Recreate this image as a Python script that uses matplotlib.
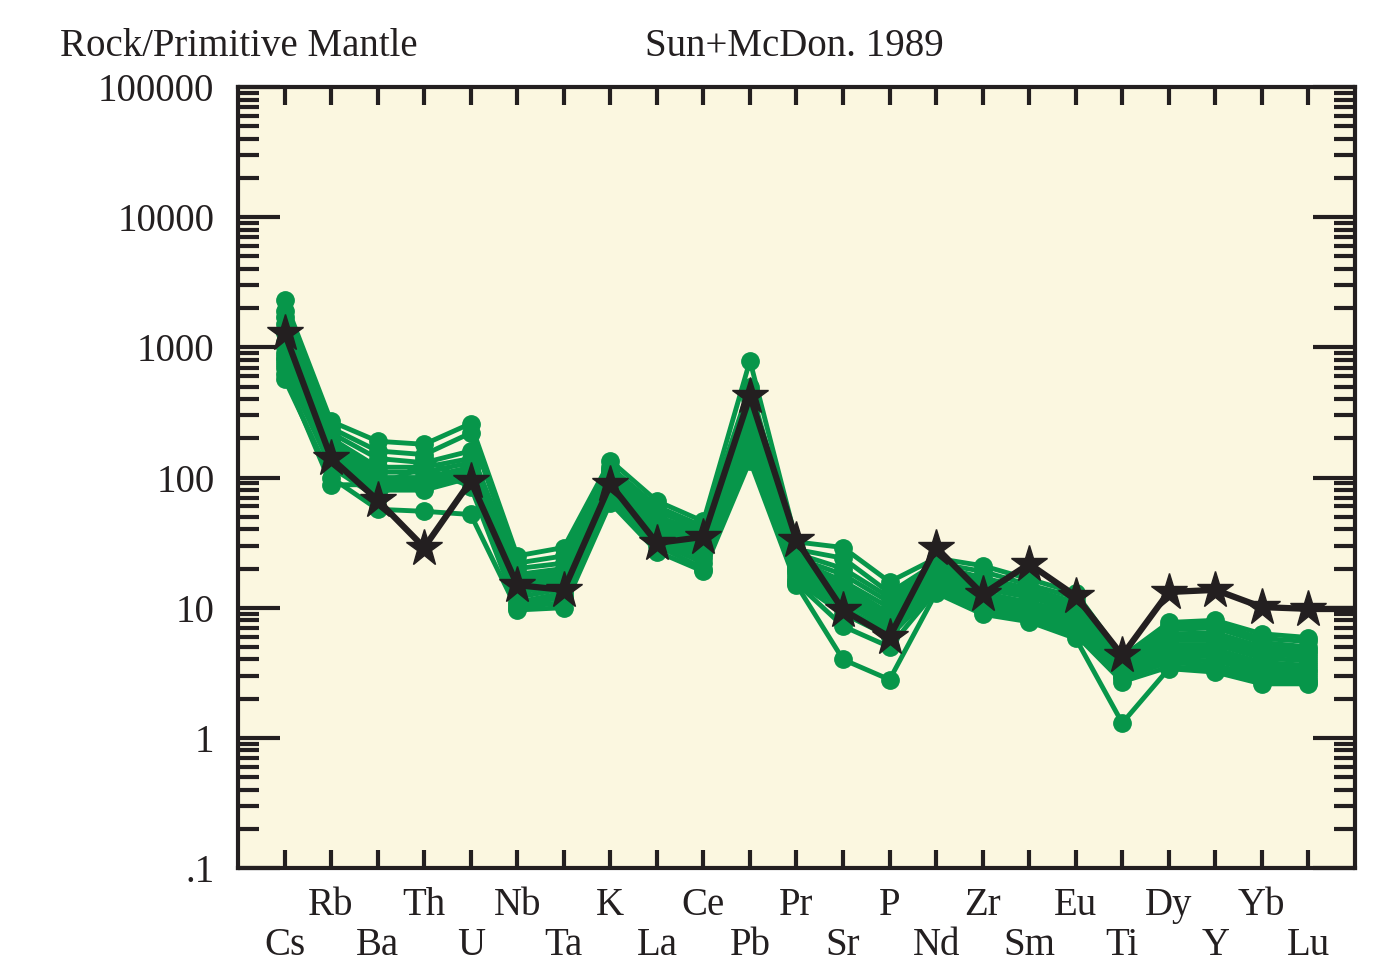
#!/usr/bin/env python3
"""Primitive-mantle normalised spider diagram (Sun & McDonough 1989)."""
import numpy as np
from matplotlib import pyplot as plt
from matplotlib.ticker import FixedLocator, LogLocator, NullFormatter

elements = ["Cs", "Rb", "Ba", "Th", "U", "Nb", "Ta", "K", "La", "Ce", "Pb", "Pr",
            "Sr", "P", "Nd", "Zr", "Sm", "Eu", "Ti", "Dy", "Y", "Yb", "Lu"]

# green samples, one list per rock
samples = [
    [2300, 270, 190, 180, 260, 25, 29, 135, 66, 46, 790, 32, 29, 15.8, 24, 21, 16.6, 13, 4.2, 7.7, 8.0, 6.3, 5.9],
    [1900, 240, 160, 150, 220, 22, 25, 120, 60, 42, 500, 28, 24, 13, 22, 19, 15, 12, 4.0, 7.2, 7.5, 5.8, 5.5],
    [1700, 220, 140, 130, 160, 20, 22, 115, 55, 40, 400, 26, 20, 12, 21, 17, 14, 11, 3.8, 6.8, 7.0, 5.4, 5.0],
    [1500, 200, 120, 120, 140, 18, 20, 110, 50, 38, 330, 24, 18, 11, 20, 16, 13, 10.5, 3.7, 6.3, 6.4, 5.0, 4.7],
    [1300, 190, 110, 110, 130, 17, 19, 105, 48, 36, 280, 23, 16, 10, 19, 15, 12.5, 10, 3.6, 6.0, 6.0, 4.7, 4.5],
    [1100, 180, 100, 100, 120, 16, 18, 100, 45, 34, 250, 22, 15, 9, 18, 14, 12, 9.5, 3.5, 5.6, 5.6, 4.4, 4.2],
    [1000, 170, 95, 95, 115, 15, 17, 95, 42, 32, 220, 21, 14, 8.5, 17, 13, 11, 9, 3.4, 5.2, 5.2, 4.1, 3.9],
    [900, 160, 90, 90, 110, 14, 16, 90, 40, 30, 200, 20, 13, 8, 16, 12, 10.5, 8.5, 3.3, 4.9, 4.8, 3.8, 3.6],
    [850, 150, 85, 85, 105, 13, 15, 85, 38, 28, 180, 19, 12, 7.5, 15.5, 11.5, 10, 8, 3.2, 4.6, 4.5, 3.6, 3.4],
    [800, 140, 80, 80, 100, 12, 14, 80, 36, 26, 170, 18, 11, 7, 15, 11, 9.5, 7.5, 3.1, 4.3, 4.2, 3.4, 3.2],
    [750, 130, 75, 100, 95, 11, 13, 75, 34, 24, 160, 17, 10, 6.5, 14.5, 10.5, 9, 7, 3.0, 4.0, 3.9, 3.2, 3.0],
    [700, 120, 70, 140, 90, 10.5, 12, 70, 32, 22, 150, 16, 9, 6, 14, 10, 8.5, 6.5, 2.9, 3.8, 3.6, 3.0, 2.8],
    [620, 88, 88, 120, 85, 10, 11, 68, 30, 20, 145, 15.5, 7.2, 5.0, 13.5, 9.5, 8.2, 6.2, 2.7, 3.5, 3.4, 2.8, 2.7],
    [570, 100, 57, 55, 52, 9.6, 10, 64, 27, 19, 135, 15, 4.0, 2.8, 13, 8.9, 7.8, 5.8, 1.3, 3.4, 3.2, 2.6, 2.6],
]

# reference composition (black stars)
reference = [1290, 141, 67, 29, 94, 14.9, 13.7, 89, 31.4, 35, 423, 33, 9.6, 5.96,
             29, 12.7, 21.7, 12.3, 4.3, 13.2, 13.7, 10.1, 9.8]

ytick_values = [0.1, 1, 10, 100, 1000, 10000, 100000]
ytick_labels = [".1", "1", "10", "100", "1000", "10000", "100000"]

green = "#07964A"
ink = "#231F20"
cream = "#FBF7E0"

plt.rcParams["font.family"] = ["Liberation Serif", "DejaVu Serif"]

fig = plt.figure(figsize=(13.76, 9.69), dpi=100)
ax = fig.add_axes([0.173, 0.1042, 0.8117, 0.806])
ax.set_facecolor(cream)

x = np.arange(len(elements))
for s in samples:
    ax.plot(x, s, color=green, linewidth=3.5, marker="o", markersize=12.5,
            zorder=2, clip_on=False)

ax.plot(x, reference, color=ink, linewidth=4.5, marker="*", markersize=28,
        zorder=3)
# the reference line carries on to the frame
ax.plot([x[-1], x[-1] + 1], [reference[-1], reference[-1]], color=ink,
        linewidth=4.5, zorder=3)

ax.set_yscale("log")
ax.set_ylim(0.1, 100000)
ax.set_xlim(-1, len(elements))

ax.yaxis.set_major_locator(FixedLocator(ytick_values))
ax.set_yticklabels(ytick_labels, fontsize=28)
ax.yaxis.set_minor_locator(LogLocator(base=10, subs=np.arange(2, 10)))
ax.yaxis.set_minor_formatter(NullFormatter())
ax.tick_params(axis="y", which="major", direction="in", length=30, width=3,
               left=True, right=True, pad=17)
ax.tick_params(axis="y", which="minor", direction="in", length=15, width=3,
               left=True, right=True)

labels = [e if i % 2 else "\n" + e for i, e in enumerate(elements)]
ax.set_xticks(x)
ax.set_xticklabels(labels, fontsize=28, linespacing=1.1)
ax.tick_params(axis="x", which="major", direction="in", length=13, width=3,
               top=True, bottom=True, pad=14)
ax.tick_params(axis="x", which="minor", bottom=False, top=False)

for sp in ax.spines.values():
    sp.set_linewidth(3)
    sp.set_color(ink)
ax.tick_params(colors=ink, which="both")

fig.text(60 / 1376, 1 - 47 / 969, "Rock/Primitive Mantle", fontsize=28,
         ha="left", va="center", color=ink)
fig.text(645 / 1376, 1 - 47 / 969, "Sun+McDon. 1989", fontsize=28,
         ha="left", va="center", color=ink)

fig.savefig("out.png", dpi=100, facecolor="white")
